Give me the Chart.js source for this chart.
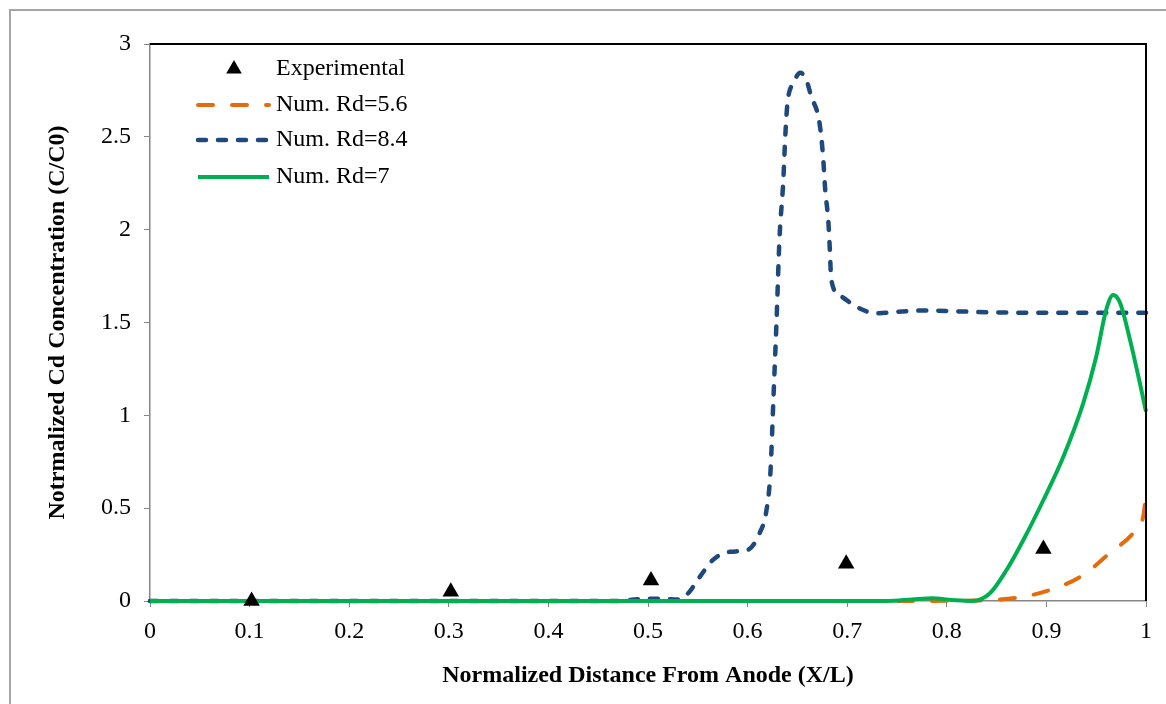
<!DOCTYPE html>
<html>
<head>
<meta charset="utf-8">
<title>Cd concentration</title>
<script src="https://cdn.jsdelivr.net/npm/chart.js@4.4.1/dist/chart.umd.min.js"></script>
<style>
    html, body { margin: 0; padding: 0; background: #ffffff; }
    canvas { display: block; }
</style>
</head>
<body>
<canvas id="grafico" width="1166" height="704"></canvas>
<script>
// Experimental points
const expX = [0.102, 0.302, 0.503, 0.699, 0.897];
const expY = [0.0, 0.05, 0.11, 0.2, 0.28];

// Num. Rd=5.6
const rd56X = [0, 0.76, 0.82, 0.843, 0.873, 0.904, 0.937, 0.964, 0.987, 0.997, 1.0];
const rd56Y = [0, 0, 0.002, 0.005, 0.02, 0.06, 0.14, 0.26, 0.365, 0.45, 0.57];

// Num. Rd=8.4
const rd84X = [0, 0.47, 0.49, 0.51, 0.53, 0.54, 0.552, 0.565, 0.582, 0.6, 0.612, 0.619, 0.623, 0.626,
    0.629, 0.632, 0.6357, 0.638, 0.64, 0.646, 0.653, 0.659, 0.664, 0.671, 0.674, 0.676, 0.678,
    0.681, 0.6825, 0.684, 0.694, 0.709, 0.729, 0.75, 0.78, 0.81, 0.87, 0.93, 1.0];
const rd84Y = [0, 0, 0.01, 0.012, 0.008, 0.04, 0.13, 0.22, 0.265, 0.275, 0.365, 0.49, 0.7, 1.1,
    1.5, 1.95, 2.25, 2.52, 2.68, 2.79, 2.845, 2.806, 2.716, 2.61, 2.5, 2.375, 2.21,
    2.05, 1.9, 1.73, 1.64, 1.585, 1.55, 1.558, 1.565, 1.56, 1.553, 1.552, 1.552];

// Num. Rd=7
const rd7X = [0, 0.74, 0.765, 0.785, 0.805, 0.826, 0.843, 0.86, 0.877, 0.897, 0.917, 0.937, 0.95,
    0.96, 0.967, 0.974, 0.984, 0.994, 1.0];
const rd7Y = [0, 0, 0.008, 0.015, 0.006, 0, 0.04, 0.167, 0.33, 0.544, 0.777, 1.066, 1.316,
    1.567, 1.648, 1.605, 1.405, 1.17, 1.02];

const serieNomes = ['Experimental', 'Num. Rd=5.6', 'Num. Rd=8.4', 'Num. Rd=7'];
const xTitulo = 'Normalized Distance From Anode (X/L)';
const yTitulo = 'Notrmalized Cd Concentration (C/C0)';

const corLaranja = 'rgb(228, 108, 10)';
const corAzul = 'rgb(31, 73, 125)';
const corVerde = 'rgb(0, 176, 80)';
const fonte = "'Liberation Serif', 'Times New Roman', serif";

function pares(xs, ys) {
    return xs.map((x, i) => ({ x: x, y: ys[i] }));
}

// frame around the whole figure + black top/right border of the plot
const molduraPlugin = {
    id: 'moldura',
    beforeDraw(chart) {
        const ctx = chart.ctx;
        ctx.save();
        ctx.strokeStyle = '#a6a6a6';
        ctx.lineWidth = 2;
        ctx.beginPath();
        ctx.moveTo(10, chart.height);
        ctx.lineTo(10, 10);
        ctx.lineTo(chart.width, 10);
        ctx.stroke();
        ctx.restore();
    },
    afterDraw(chart) {
        const { ctx, chartArea } = chart;
        ctx.save();
        ctx.strokeStyle = '#000000';
        ctx.lineWidth = 2;
        ctx.beginPath();
        ctx.moveTo(chartArea.left, chartArea.top);
        ctx.lineTo(chartArea.right, chartArea.top);
        ctx.lineTo(chartArea.right, chartArea.bottom);
        ctx.stroke();
        ctx.restore();
    }
};

// legend drawn inside the plot, top left
const legendaPlugin = {
    id: 'legendaInterna',
    afterDraw(chart) {
        const ctx = chart.ctx;
        const x0 = 198, x1 = 269, xTexto = 276;
        const linhas = [69, 105, 140, 177];
        ctx.save();
        ctx.font = '24px ' + fonte;
        ctx.textBaseline = 'middle';
        ctx.fillStyle = '#000000';

        chart.data.datasets.forEach((ds, i) => {
            const y = linhas[i];
            if (ds.showLine === false) {
                const r = 9;
                const cx = 234;
                ctx.beginPath();
                ctx.moveTo(cx, y - r);
                ctx.lineTo(cx + r * 0.866, y + r / 2);
                ctx.lineTo(cx - r * 0.866, y + r / 2);
                ctx.closePath();
                ctx.fillStyle = '#000000';
                ctx.fill();
            } else {
                ctx.beginPath();
                ctx.strokeStyle = ds.borderColor;
                ctx.lineWidth = ds.borderWidth;
                ctx.lineCap = ds.borderCapStyle || 'butt';
                ctx.setLineDash(ds.borderDash || []);
                ctx.moveTo(x0, y);
                ctx.lineTo(x1, y);
                ctx.stroke();
                ctx.setLineDash([]);
            }
            ctx.fillStyle = '#000000';
            ctx.fillText(ds.label, xTexto, y);
        });
        ctx.restore();
    }
};

const ctx = document.getElementById('grafico').getContext('2d');
const myChart = new Chart(ctx, {
    type: 'line',
    data: {
        datasets: [
            {
                label: serieNomes[0],
                data: pares(expX, expY),
                showLine: false,
                pointStyle: 'triangle',
                pointRadius: 9.5,
                pointBackgroundColor: '#000000',
                pointBorderColor: '#000000',
                pointBorderWidth: 0,
                clip: false,
                order: 0
            },
            {
                label: serieNomes[1],
                data: pares(rd56X, rd56Y),
                borderColor: corLaranja,
                borderWidth: 4,
                borderDash: [15, 19],
                borderCapStyle: 'round',
                pointRadius: 0,
                cubicInterpolationMode: 'monotone',
                fill: false,
                clip: false,
                order: 3
            },
            {
                label: serieNomes[2],
                data: pares(rd84X, rd84Y),
                borderColor: corAzul,
                borderWidth: 4.5,
                borderDash: [8, 12],
                borderCapStyle: 'round',
                pointRadius: 0,
                cubicInterpolationMode: 'monotone',
                fill: false,
                clip: false,
                order: 2
            },
            {
                label: serieNomes[3],
                data: pares(rd7X, rd7Y),
                borderColor: corVerde,
                borderWidth: 4,
                pointRadius: 0,
                cubicInterpolationMode: 'monotone',
                fill: false,
                clip: false,
                order: 1
            }
        ]
    },
    options: {
        responsive: false,
        animation: false,
        events: [],
        layout: {
            padding: { top: 44, right: 20, bottom: 0, left: 0 }
        },
        scales: {
            x: {
                type: 'linear',
                min: 0,
                max: 1,
                afterFit: function (scale) { scale.height = 103; },
                border: { display: true, color: '#868686', width: 1.5 },
                grid: { drawOnChartArea: false, drawTicks: true, tickLength: 6, color: '#868686' },
                ticks: {
                    stepSize: 0.1,
                    padding: 10,
                    color: '#000000',
                    font: { family: fonte, size: 24 },
                    callback: v => String(+v.toFixed(1))
                },
                title: {
                    display: true,
                    text: xTitulo,
                    color: '#000000',
                    font: { family: fonte, size: 24, weight: 'bold' },
                    padding: { top: 0, bottom: 14 }
                }
            },
            y: {
                min: 0,
                max: 3,
                afterFit: function (scale) { scale.width = 150; },
                border: { display: true, color: '#868686', width: 1.5 },
                grid: { drawOnChartArea: false, drawTicks: true, tickLength: 6, color: '#868686' },
                ticks: {
                    stepSize: 0.5,
                    padding: 13,
                    color: '#000000',
                    font: { family: fonte, size: 24 },
                    callback: v => String(+v.toFixed(1))
                },
                title: {
                    display: true,
                    text: yTitulo,
                    color: '#000000',
                    font: { family: fonte, size: 24, weight: 'bold' },
                    padding: { top: 43, bottom: 0 }
                }
            }
        },
        plugins: {
            legend: { display: false },
            tooltip: { enabled: false }
        }
    },
    plugins: [molduraPlugin, legendaPlugin]
});
</script>
</body>
</html>
